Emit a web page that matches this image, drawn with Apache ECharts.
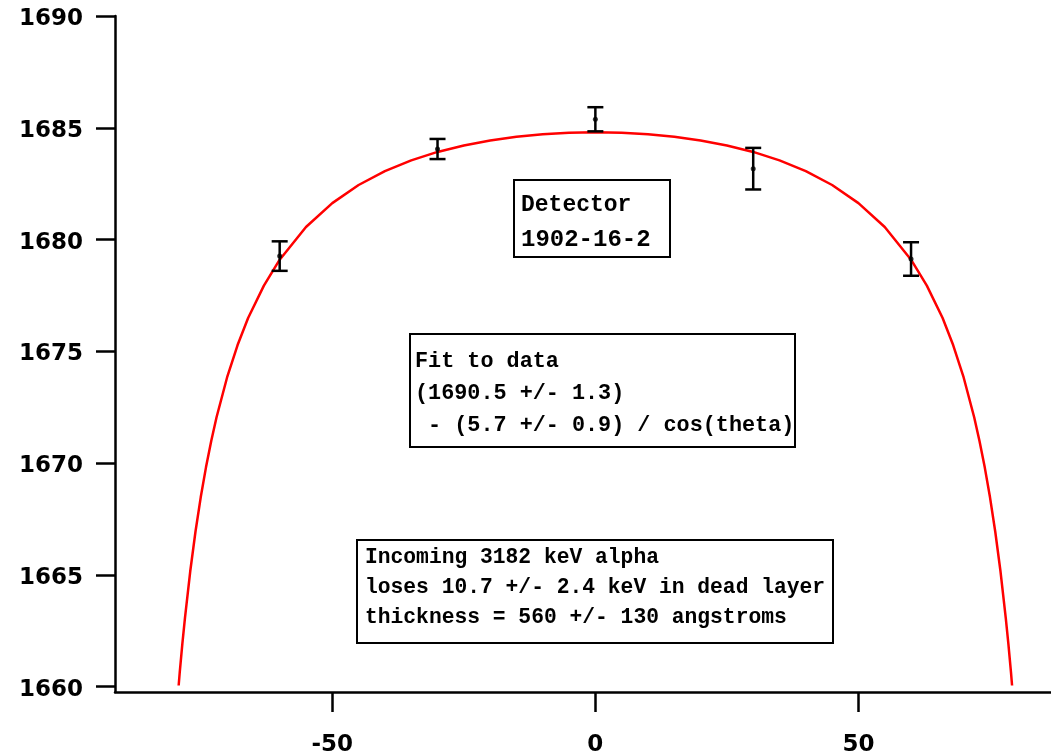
<!DOCTYPE html>
<html>
<head>
<meta charset="utf-8">
<script src="https://cdn.jsdelivr.net/npm/echarts@6/dist/echarts.min.js"></script>
<style>html,body{margin:0;padding:0;background:#fff;}#c{width:1051px;height:754px;}</style>
</head>
<body>
<div id="c"></div>
<script>
// Measured points (angle in degrees, energy)
var angles = [-60, -30, 0, 30, 60];
var energies = [1679.26, 1684.05, 1685.38, 1683.17, 1679.13];
var errors = [0.66, 0.45, 0.54, 0.93, 0.75];

// Fit curve samples
var fitX = [-79.2, -79, -78.5, -78, -77, -76, -75, -74, -73, -72, -70, -68, -66, -63, -60, -55, -50, -45, -40, -35, -30, -25, -20, -15, -10, -5, 0,
            5, 10, 15, 20, 25, 30, 35, 40, 45, 50, 55, 60, 63, 66, 68, 70, 72, 73, 74, 75, 76, 77, 78, 78.5, 79, 79.2];
var fitY = [1660.05, 1660.63, 1661.91, 1663.08, 1665.16, 1666.94, 1668.48, 1669.82, 1671.00, 1672.05, 1673.83, 1675.28, 1676.49, 1677.94, 1679.10, 1680.56, 1681.63, 1682.44, 1683.06, 1683.54, 1683.92, 1684.21, 1684.43, 1684.60, 1684.71, 1684.78, 1684.80,
            1684.78, 1684.71, 1684.60, 1684.43, 1684.21, 1683.92, 1683.54, 1683.06, 1682.44, 1681.63, 1680.56, 1679.10, 1677.94, 1676.49, 1675.28, 1673.83, 1672.05, 1671.00, 1669.82, 1668.48, 1666.94, 1665.16, 1663.08, 1661.91, 1660.63, 1660.05];

var xTicks = [-50, 0, 50];
var yTicks = [1660, 1665, 1670, 1675, 1680, 1685, 1690];

var box1Lines = ['Detector', '1902-16-2'];
var box2Lines = ['Fit to data', '(1690.5 +/- 1.3)', ' - (5.7 +/- 0.9) / cos(theta)'];
var box3Lines = ['Incoming 3182 keV alpha', 'loses 10.7 +/- 2.4 keV in dead layer', 'thickness = 560 +/- 130 angstroms'];

var fitData = fitX.map(function (x, i) { return [x, fitY[i]]; });
var pointData = angles.map(function (x, i) { return [x, energies[i]]; });
var errData = angles.map(function (x, i) { return [x, energies[i], errors[i]]; });

var labelFont = { fontFamily: 'DejaVu Sans', fontWeight: 'bold', fontSize: 23, color: '#000' };
var boxFont = '"Liberation Mono", "DejaVu Sans Mono", monospace';

function box(x, y, w, h, lines, tx, ty0, dy, sizes) {
  var els = [{
    type: 'rect', z: 100,
    shape: { x: x, y: y, width: w, height: h },
    style: { fill: '#fff', stroke: '#000', lineWidth: 2 }
  }];
  lines.forEach(function (t, i) {
    els.push({
      type: 'text', z: 101, x: tx, y: ty0 + i * dy,
      style: { text: t, fill: '#000', font: 'bold ' + sizes[i] + 'px ' + boxFont, align: 'left', verticalAlign: 'middle' }
    });
  });
  return els;
}

var graphics = [].concat(
  box(514, 180, 156, 77, box1Lines, 521, 205, 35, [23, 24]),
  box(410, 334, 385, 113, box2Lines, 415, 362, 32, [21.8, 21.8, 21.8]),
  box(357, 540, 476, 103, box3Lines, 365, 558, 30, [21.3, 21.3, 21.3])
);

var chart = echarts.init(document.getElementById('c'), null, { renderer: 'canvas' });
chart.setOption({
  animation: false,
  backgroundColor: '#fff',
  grid: { left: 115, right: 0, top: 16, bottom: 62, containLabel: false, outerBoundsMode: 'none' },
  xAxis: {
    type: 'value', min: -91.3, max: 86.6,
    axisLine: { onZero: false, lineStyle: { color: '#000', width: 2.5 } },
    axisTick: { show: true, length: 20, lineStyle: { color: '#000', width: 2.5 }, customValues: xTicks },
    axisLabel: Object.assign({ margin: 42, customValues: xTicks, formatter: function (v) { return String(v); } }, labelFont),
    splitLine: { show: false }
  },
  yAxis: {
    type: 'value', min: 1659.76, max: 1690,
    axisLine: { show: true, onZero: false, lineStyle: { color: '#000', width: 2.5 } },
    axisTick: { show: true, length: 19, lineStyle: { color: '#000', width: 2.5 }, customValues: yTicks },
    axisLabel: Object.assign({ margin: 32, customValues: yTicks, verticalAlign: 'top', lineHeight: 6, formatter: function (v) { return String(v); } }, labelFont),
    splitLine: { show: false }
  },
  series: [
    {
      type: 'line', data: fitData, showSymbol: false, smooth: false,
      lineStyle: { color: '#ff0000', width: 2.5 }, z: 2, silent: true
    },
    {
      type: 'custom', data: errData, z: 3,
      renderItem: function (params, api) {
        var x = api.value(0), y = api.value(1), e = api.value(2);
        var top = api.coord([x, y + e]);
        var bot = api.coord([x, y - e]);
        var hw = 8;
        var st = { stroke: '#000', lineWidth: 2.5 };
        return {
          type: 'group',
          children: [
            { type: 'line', shape: { x1: top[0], y1: top[1], x2: bot[0], y2: bot[1] }, style: st },
            { type: 'line', shape: { x1: top[0] - hw, y1: top[1], x2: top[0] + hw, y2: top[1] }, style: st },
            { type: 'line', shape: { x1: bot[0] - hw, y1: bot[1], x2: bot[0] + hw, y2: bot[1] }, style: st }
          ]
        };
      }
    },
    {
      type: 'scatter', data: pointData, symbol: 'circle', symbolSize: 5,
      itemStyle: { color: '#000' }, z: 4
    }
  ],
  graphic: graphics
});
</script>
</body>
</html>
